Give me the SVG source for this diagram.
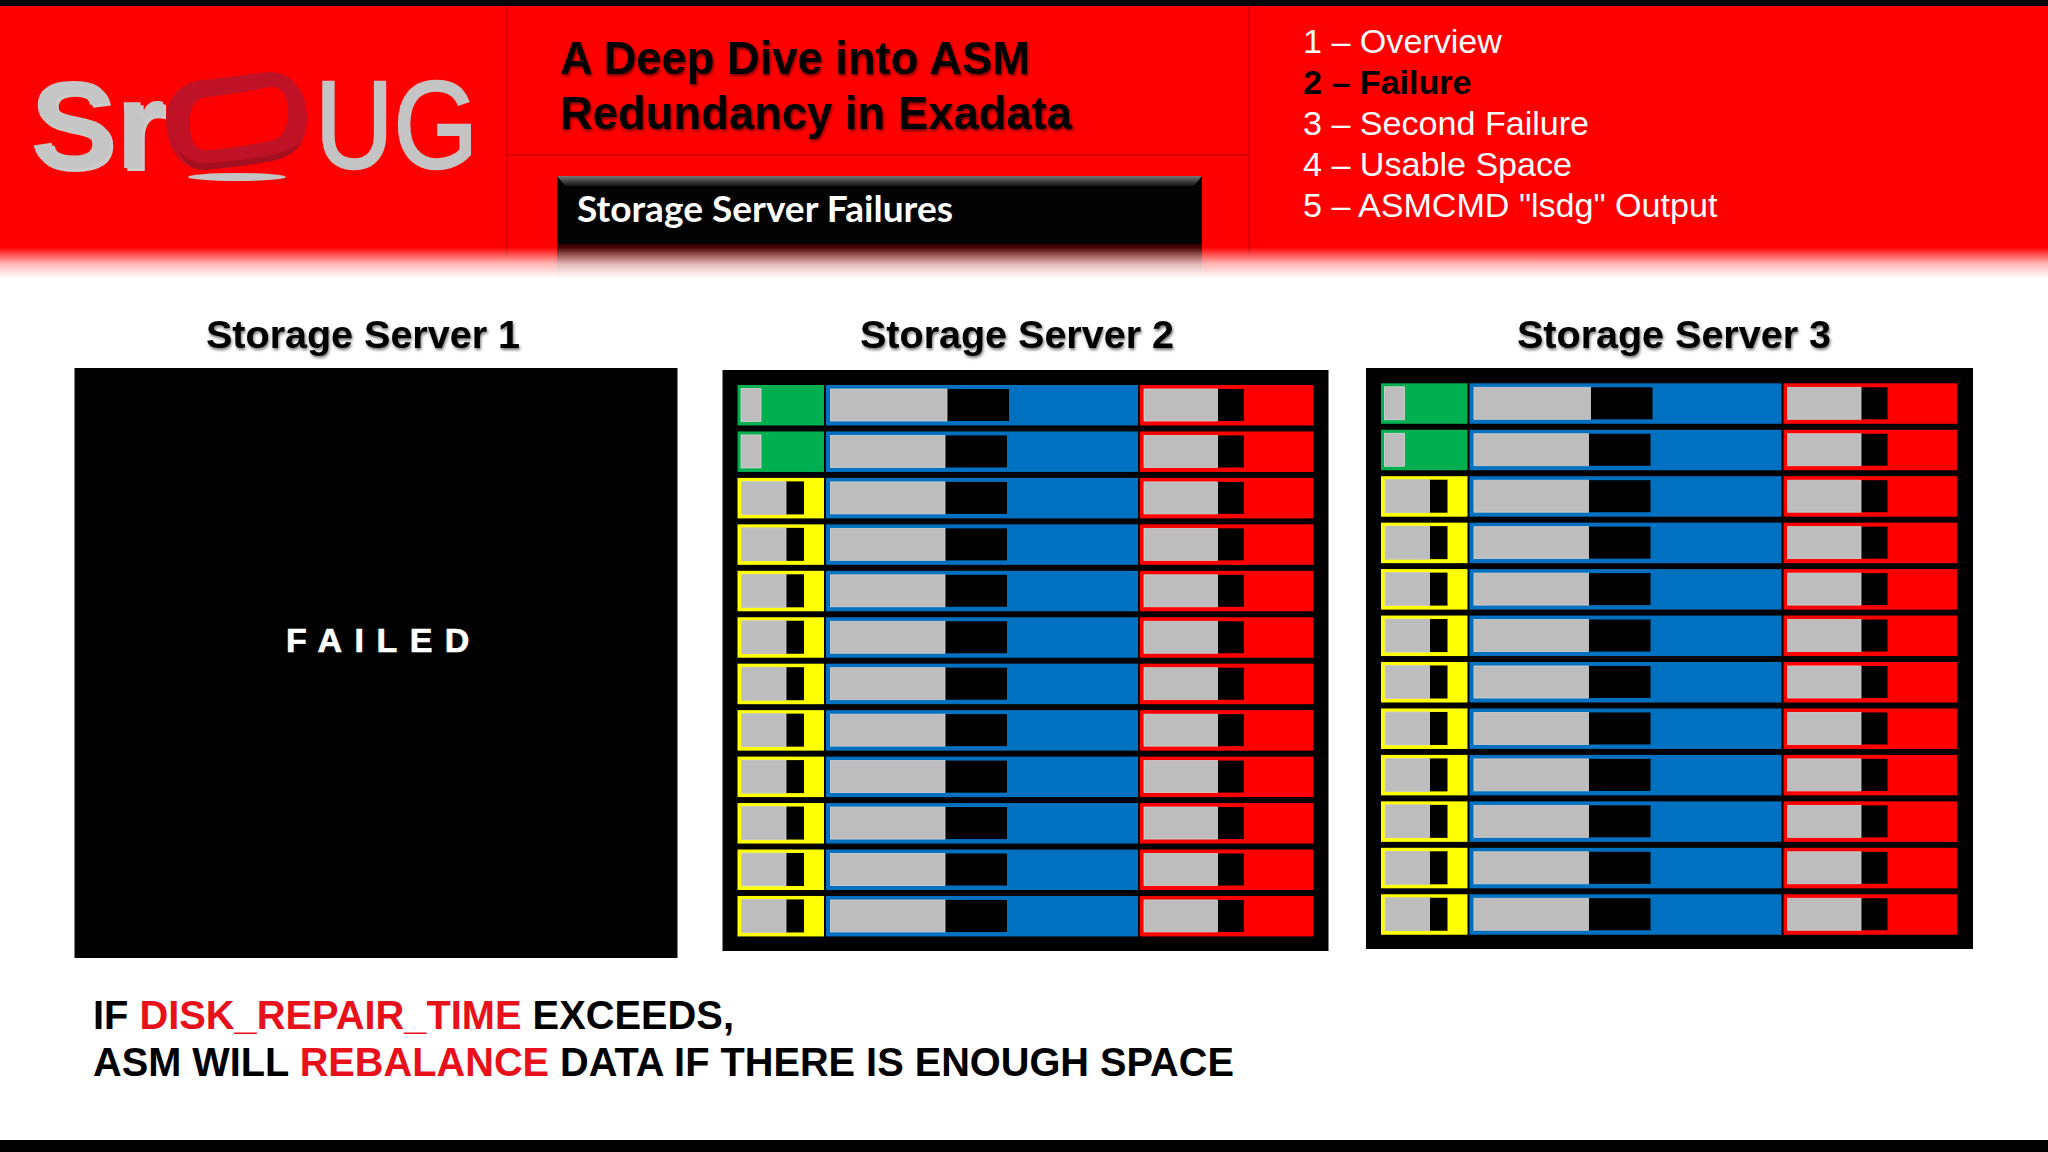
<svg xmlns="http://www.w3.org/2000/svg" width="2048" height="1152" viewBox="0 0 2048 1152">
<defs>
<style>
.sans{font-family:"Liberation Sans",Arial,sans-serif}
.b{font-weight:700}
.gr{fill:#bdbdbd;stroke:#d6d6d6;stroke-width:.8}
.bk{fill:#000}
.g{fill:#00b050}.y{fill:#ffff00}.bl{fill:#0070c0}.r{fill:#ff0000}
.head{font-size:39.5px;fill:#000;filter:url(#sh)}
.menu{font-size:34.1px;fill:#fff}
.note{font-size:39.8px;fill:#000}
.red{fill:#e8101a}
</style>
<filter id="sh" x="-5%" y="-20%" width="110%" height="140%"><feGaussianBlur in="SourceAlpha" stdDeviation="1.6"/><feOffset dx="1" dy="1.5"/><feComponentTransfer><feFuncA type="linear" slope=".55"/></feComponentTransfer><feMerge><feMergeNode/><feMergeNode in="SourceGraphic"/></feMerge></filter>
<filter id="lsh" x="-5%" y="-10%" width="110%" height="120%"><feOffset in="SourceAlpha" dx="3" dy="3"/><feColorMatrix values="0 0 0 0 .6 0 0 0 0 .6 0 0 0 0 .6 0 0 0 1 0"/><feMerge><feMergeNode/><feMergeNode in="SourceGraphic"/></feMerge></filter>
<linearGradient id="fade" x1="0" y1="0" x2="0" y2="1"><stop offset="0" stop-color="#fff" stop-opacity="0"/><stop offset=".55" stop-color="#fff" stop-opacity=".72"/><stop offset="1" stop-color="#fff"/></linearGradient>
<linearGradient id="bev" x1="0" y1="0" x2="0" y2="1"><stop offset="0" stop-color="#777"/><stop offset="1" stop-color="#111"/></linearGradient>
<linearGradient id="refl" x1="0" y1="0" x2="0" y2="1"><stop offset="0" stop-color="#300"/><stop offset="1" stop-color="#000" stop-opacity=".1"/></linearGradient>
<g id="core"><rect class="bl" x="88.5" width="312" height="40.5"/><rect class="r" x="402.5" width="173.5" height="40.5"/><rect class="bk" x="93" y="4" width="176.5" height="32"/><rect class="gr" x="93" y="4" width="114.5" height="32"/><rect class="bk" x="406.5" y="4" width="100" height="32"/><rect class="gr" x="406.5" y="4" width="73.5" height="32"/></g>
<g id="core1"><rect class="bl" x="88.5" width="312" height="40.5"/><rect class="r" x="402.5" width="173.5" height="40.5"/><rect class="bk" x="93" y="4" width="178.5" height="32"/><rect class="gr" x="93" y="4" width="116.5" height="32"/><rect class="bk" x="406.5" y="4" width="100" height="32"/><rect class="gr" x="406.5" y="4" width="73.5" height="32"/></g>
<g id="green"><rect class="g" width="86.5" height="40.5"/><rect class="gr" x="3.5" y="3.5" width="20" height="33"/></g>
<g id="yellow"><rect class="y" width="86.5" height="40.5"/><rect class="bk" x="4" y="3.5" width="62.5" height="33"/><rect class="gr" x="4" y="3.5" width="44.5" height="33"/></g>
<g id="rows">
<use href="#green" y="0"/><use href="#core1" y="0"/>
<use href="#green" y="46.45"/><use href="#core" y="46.45"/>
<use href="#yellow" y="92.9"/><use href="#core" y="92.9"/>
<use href="#yellow" y="139.35"/><use href="#core" y="139.35"/>
<use href="#yellow" y="185.8"/><use href="#core" y="185.8"/>
<use href="#yellow" y="232.25"/><use href="#core" y="232.25"/>
<use href="#yellow" y="278.7"/><use href="#core" y="278.7"/>
<use href="#yellow" y="325.15"/><use href="#core" y="325.15"/>
<use href="#yellow" y="371.6"/><use href="#core" y="371.6"/>
<use href="#yellow" y="418.05"/><use href="#core" y="418.05"/>
<use href="#yellow" y="464.5"/><use href="#core" y="464.5"/>
<use href="#yellow" y="510.95"/><use href="#core" y="510.95"/>
</g>
</defs>
<rect width="2048" height="1152" fill="#fff"/>
<g id="header">
<rect y="6" width="2048" height="272" fill="#ff0000"/>
<path d="M507 6V255M1249 6V255M507 155H1249" stroke="#dc0000" stroke-width="2" fill="none"/>
<rect width="2048" height="6" fill="#05060a"/>
</g>
<g id="logo">
<text class="sans b" x="30" y="168" font-size="124" fill="#c6c6c6" textLength="135" lengthAdjust="spacingAndGlyphs" filter="url(#lsh)">Sr</text>
<text class="sans" x="315" y="168" font-size="124" fill="#c4c4c4" stroke="#c4c4c4" stroke-width="2.5" textLength="163" lengthAdjust="spacingAndGlyphs">UG</text>
<path fill-rule="evenodd" fill="#c01226" d="M200 80 C225 78 250 74 268 72 C292 71 307 92 307 118 C307 146 292 157 272 161 C250 165 225 168 205 170 C180 170 166 148 166 120 C166 98 180 84 200 80Z M207 97 C225 95 250 91 270 87 C282 86 288 96 288 112 C288 130 282 138 270 141 C250 145 225 149 207 150 C194 150 190 140 190 123 C190 107 194 99 207 97Z"/>
<path d="M178 150 C185 165 195 170 205 170 C225 168 250 165 272 161 C285 158 296 152 302 142 C290 150 280 153 270 155 C250 159 225 162 205 163 C195 163 186 159 178 150Z" fill="#a50f20"/>
<ellipse cx="237" cy="177" rx="49" ry="4" fill="#c4c4c4"/>
</g>
<g id="title">
<text class="sans b" x="560" y="74" font-size="46" fill="#000" filter="url(#sh)" textLength="470" lengthAdjust="spacingAndGlyphs">A Deep Dive into ASM</text>
<text class="sans b" x="560" y="129" font-size="46" fill="#000" filter="url(#sh)" textLength="512" lengthAdjust="spacingAndGlyphs">Redundancy in Exadata</text>
</g>
<g id="subtitle">
<rect x="557" y="176" width="645" height="68" fill="#030303"/>
<path d="M557 176H1202L1194 186H565Z" fill="url(#bev)"/>
<rect x="557" y="244" width="645" height="34" fill="url(#refl)"/>
<text x="577" y="222" font-family="Lato,'Open Sans',sans-serif" font-weight="700" font-size="36.5" fill="#fff" textLength="376" lengthAdjust="spacingAndGlyphs">Storage Server Failures</text>
</g>
<rect id="fade-band" y="247" width="2048" height="31" fill="url(#fade)"/>
<g id="menu" class="sans">
<text class="menu" x="1303" y="53">1 – Overview</text>
<text class="menu b" x="1303" y="94" style="fill:#000">2 – Failure</text>
<text class="menu" x="1303" y="135">3 – Second Failure</text>
<text class="menu" x="1303" y="176">4 – Usable Space</text>
<text class="menu" x="1303" y="217">5 – ASMCMD "lsdg" Output</text>
</g>
<g id="server-1">
<text class="sans b head" x="363" y="348" text-anchor="middle">Storage Server 1</text>
<rect x="74.5" y="368" width="603" height="590" fill="#000"/>
<text class="sans b" x="286" y="652" font-size="34" fill="#fff" stroke="#fff" stroke-width=".7" letter-spacing="12.5">FAILED</text>
</g>
<g id="server-2">
<text class="sans b head" x="1017" y="348" text-anchor="middle">Storage Server 2</text>
<rect x="722.5" y="370" width="606" height="581" fill="#000"/>
<use href="#rows" x="737.5" y="385"/>
</g>
<g id="server-3">
<text class="sans b head" x="1674" y="348" text-anchor="middle">Storage Server 3</text>
<rect x="1366" y="368" width="607" height="581" fill="#000"/>
<use href="#rows" x="1381" y="383.3"/>
</g>
<g id="note" class="sans b">
<text class="note" x="93" y="1029" textLength="641" lengthAdjust="spacingAndGlyphs">IF <tspan class="red">DISK_REPAIR_TIME</tspan> EXCEEDS,</text>
<text class="note" x="93" y="1076" textLength="1141" lengthAdjust="spacingAndGlyphs">ASM WILL <tspan class="red">REBALANCE</tspan> DATA IF THERE IS ENOUGH SPACE</text>
</g>
<rect id="footer-bar" y="1140" width="2048" height="12" fill="#000"/>
</svg>
